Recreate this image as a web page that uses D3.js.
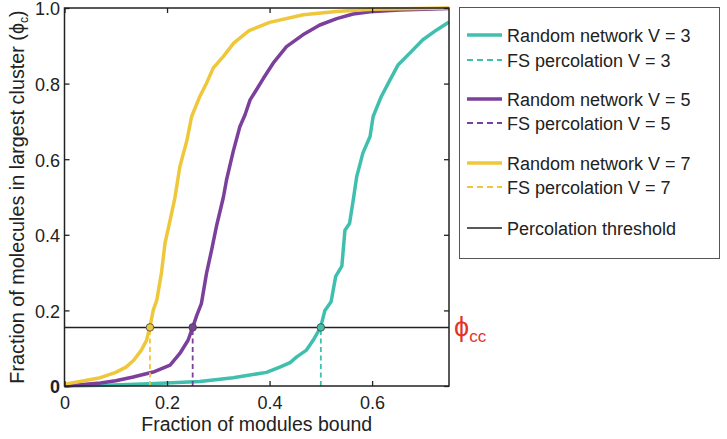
<!DOCTYPE html>
<html>
<head>
<meta charset="utf-8">
<script src="https://cdn.jsdelivr.net/npm/d3@7"></script>
<style>
  body { margin: 0; background: #fff; }
  svg { font-family: "Liberation Sans", Arial, Helvetica, sans-serif; }
</style>
</head>
<body>
<div id="chart"></div>
<script>
// fraction of modules bound vs fraction of molecules in largest cluster
var teal = [[0,0],[0.08,0.002],[0.167,0.006],[0.264,0.012],[0.329,0.022],[0.394,0.036],[0.42,0.05],[0.44,0.062],
  [0.453,0.077],[0.472,0.095],[0.485,0.121],[0.4995,0.155],[0.508,0.2],[0.52,0.223],[0.529,0.29],[0.541,0.317],
  [0.547,0.412],[0.556,0.43],[0.563,0.49],[0.57,0.554],[0.582,0.616],[0.596,0.66],[0.602,0.713],[0.618,0.766],
  [0.635,0.81],[0.651,0.85],[0.673,0.88],[0.699,0.916],[0.726,0.942],[0.75,0.963]];

var purple = [[0,0],[0.03,0.003],[0.07,0.008],[0.10,0.014],[0.134,0.024],[0.173,0.037],[0.206,0.055],[0.225,0.086],
  [0.241,0.121],[0.25,0.155],[0.258,0.187],[0.267,0.218],[0.277,0.298],[0.287,0.36],[0.297,0.426],[0.31,0.5],
  [0.316,0.545],[0.329,0.62],[0.342,0.686],[0.352,0.717],[0.362,0.757],[0.375,0.785],[0.388,0.814],[0.407,0.854],
  [0.433,0.898],[0.465,0.929],[0.498,0.955],[0.531,0.972],[0.563,0.984],[0.596,0.99],[0.654,0.995],[0.75,0.999]];

var yellow = [[0,0.005],[0.03,0.012],[0.07,0.022],[0.10,0.036],[0.12,0.05],[0.135,0.068],[0.15,0.095],[0.16,0.121],
  [0.1667,0.156],[0.173,0.2],[0.18,0.227],[0.189,0.298],[0.196,0.377],[0.206,0.439],[0.215,0.495],[0.225,0.58],
  [0.239,0.651],[0.248,0.713],[0.264,0.766],[0.277,0.801],[0.29,0.841],[0.31,0.872],[0.33,0.907],[0.36,0.94],
  [0.4,0.962],[0.466,0.982],[0.53,0.991],[0.6,0.997],[0.75,1.0]];

var valences = [3, 5, 7];
var pc = [1/2, 1/4, 1/6];          // FS percolation point for each valence
var threshold = 0.155;             // phi_cc
var colors = ["#41bfae", "#7b3f9c", "#efc73b"];
var xTicks = [0, 0.2, 0.4, 0.6];
var yTicks = [0, 0.2, 0.4, 0.6, 0.8, 1.0];
var yTickLabels = ["0", "0.2", "0.4", "0.6", "0.8", "1.0"];

var W = 727, H = 439;
var margin = {top: 8, left: 64.5, right: 278, bottom: 53};

var svg = d3.select("#chart").append("svg")
  .attr("width", W).attr("height", H);

var x = d3.scaleLinear().domain([0, 0.75]).range([margin.left, W - margin.right]);
var y = d3.scaleLinear().domain([0, 1]).range([H - margin.bottom, margin.top]);

var line = d3.line()
  .x(function(d) { return x(d[0]); })
  .y(function(d) { return y(d[1]); });

var series = [teal, purple, yellow];

// curves
series.forEach(function(s, i) {
  svg.append("path")
    .datum(s)
    .attr("fill", "none")
    .attr("stroke", colors[i])
    .attr("stroke-width", 3.5)
    .attr("stroke-linejoin", "round")
    .attr("d", line);
});

// threshold line
svg.append("line")
  .attr("x1", x(0)).attr("x2", x(0.75))
  .attr("y1", y(threshold)).attr("y2", y(threshold))
  .attr("stroke", "#222").attr("stroke-width", 1.5);

// FS percolation dashed drop lines + markers
pc.forEach(function(p, i) {
  svg.append("line")
    .attr("x1", x(p)).attr("x2", x(p))
    .attr("y1", y(0)).attr("y2", y(threshold))
    .attr("stroke", colors[i]).attr("stroke-width", 1.8)
    .attr("stroke-dasharray", "5,3.5");
  svg.append("circle")
    .attr("cx", x(p)).attr("cy", y(threshold))
    .attr("r", 3.8)
    .attr("fill", colors[i])
    .attr("stroke", "#444").attr("stroke-width", 0.8);
});

// axes
var tickFont = 18;
var gx = svg.append("g")
  .attr("transform", "translate(0," + y(0) + ")")
  .call(d3.axisBottom(x).tickValues(xTicks).tickSize(-5).tickPadding(10).tickFormat(d3.format("")));
var gxt = svg.append("g")
  .attr("transform", "translate(0," + y(1) + ")")
  .call(d3.axisTop(x).tickValues(xTicks).tickSize(-5).tickFormat(""));
var gy = svg.append("g")
  .attr("transform", "translate(" + x(0) + ",0)")
  .call(d3.axisLeft(y).tickValues(yTicks).tickSize(-5).tickPadding(4.5)
    .tickFormat(function(d, i) { return yTickLabels[i]; }));
var gyr = svg.append("g")
  .attr("transform", "translate(" + x(0.75) + ",0)")
  .call(d3.axisRight(y).tickValues(yTicks).tickSize(-5).tickFormat(""));

[gx, gxt, gy, gyr].forEach(function(g) {
  g.select(".domain").remove();
  g.selectAll(".tick line").attr("stroke", "#222").attr("stroke-width", 1.3);
  g.selectAll("text").attr("font-size", tickFont).attr("fill", "#222")
    .attr("font-family", "\"Liberation Sans\", Arial, sans-serif");
});
gy.selectAll(".tick text").attr("dy", "0.38em");
gy.selectAll(".tick text").filter(function(d) { return d === 0; }).attr("font-weight", "bold");

// frame
svg.append("rect")
  .attr("x", x(0)).attr("y", y(1))
  .attr("width", x(0.75) - x(0)).attr("height", y(0) - y(1))
  .attr("fill", "none").attr("stroke", "#222").attr("stroke-width", 1.5);

// axis titles
svg.append("text")
  .attr("x", (x(0) + x(0.75)) / 2).attr("y", 431)
  .attr("text-anchor", "middle")
  .attr("font-size", 19.5).attr("fill", "#222")
  .text("Fraction of modules bound");

var yt = svg.append("text")
  .attr("transform", "translate(24," + (y(0) + y(1)) / 2 + ") rotate(-90)")
  .attr("text-anchor", "middle")
  .attr("font-size", 19.8).attr("fill", "#222");
yt.append("tspan").text("Fraction of molecules in largest cluster (ϕ");
yt.append("tspan").attr("font-size", 12).attr("dy", 4).text("c");
yt.append("tspan").attr("dy", -4).text(")");

// phi_cc label
var phi = svg.append("text")
  .attr("x", 454).attr("y", 336)
  .attr("fill", "#e2322b");
phi.append("tspan").attr("font-size", 27).text("ϕ");
phi.append("tspan").attr("font-size", 17).attr("dy", 6).text("cc");

// legend
var legend = svg.append("g");
legend.append("rect")
  .attr("x", 459.5).attr("y", 7.5).attr("width", 260).attr("height", 251)
  .attr("fill", "#fff").attr("stroke", "#555").attr("stroke-width", 1);

var legendItems = [];
valences.forEach(function(v, i) {
  legendItems.push({label: "Random network V = " + v, color: colors[i], dash: null, w: 3.5});
  legendItems.push({label: "FS percolation V = " + v, color: colors[i], dash: "6,4", w: 1.8});
});
legendItems.push({label: "Percolation threshold", color: "#222", dash: null, w: 1.5});
var legendY = [35, 60, 99, 123, 163, 187, 228];

legendItems.forEach(function(it, i) {
  var ly = legendY[i];
  legend.append("line")
    .attr("x1", 467).attr("x2", 502).attr("y1", ly).attr("y2", ly)
    .attr("stroke", it.color).attr("stroke-width", it.w)
    .attr("stroke-dasharray", it.dash);
  legend.append("text")
    .attr("x", 507).attr("y", ly + 6.5)
    .attr("font-size", 18).attr("fill", "#222")
    .text(it.label);
});
</script>
</body>
</html>
